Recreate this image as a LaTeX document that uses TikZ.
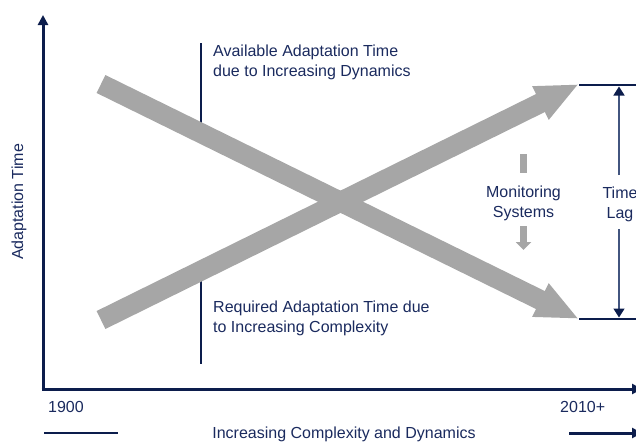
\documentclass[tikz,border=0pt]{standalone}
\usepackage{fontspec}
\setmainfont{Liberation Sans}
\usetikzlibrary{arrows.meta}
\definecolor{navy}{HTML}{0C1D4C}
\definecolor{txt}{HTML}{1A2A5E}
\definecolor{lagline}{HTML}{42557F}
\definecolor{arrgray}{HTML}{A6A6A6}
\tikzset{
  axis/.style={draw=navy, line width=3pt, -{Triangle[width=10pt,length=10pt]}},
  labline/.style={draw=navy, line width=2.5pt},
  bigarrow/.style={draw=arrgray, line width=20pt, line cap=butt, -{Triangle[width=34pt,length=43pt]}},
  smallarrow/.style={draw=arrgray, line width=7pt, line cap=butt, -{Triangle[width=15pt,length=8pt]}},
  lagarrow/.style={draw=lagline, line width=1.5pt, -{Triangle[width=11pt,length=9pt, color=navy]}},
  lbl/.style={text=txt, inner sep=0pt, font=\fontsize{16}{20}\selectfont},
}
\begin{document}
\begin{tikzpicture}[x=1pt,y=-1pt]
\useasboundingbox (0,0) rectangle (636,442);
% axes
\coordinate (origin) at (43,389);
\coordinate (ytop) at (43,15);
\coordinate (xend) at (642,389);
\draw[axis] (43,389) -- (ytop);
\draw[axis] (41.5,389) -- (xend);
% label lines
\coordinate (avtop) at (201,43);
\coordinate (avbot) at (201,126);
\coordinate (rqtop) at (201,278);
\coordinate (rqbot) at (201,364);
\draw[labline] (avtop) -- (avbot);
\draw[labline] (rqtop) -- (rqbot);
% big arrows
\coordinate (d0) at (101,84);
\coordinate (d1) at (579,319);
\coordinate (u0) at (101,320);
\coordinate (u1) at (579,84);
\draw[bigarrow] (d0) -- (d1);
\draw[bigarrow] (u0) -- (u1);
% texts
\node[lbl, anchor=north west, align=left] (avail) at (213,44.5) {Available Adaptation Time\\due to Increasing Dynamics};
\node[lbl, anchor=north west, align=left] (req) at (213,300.5) {Required Adaptation Time due\\to Increasing Complexity};
\node[lbl, rotate=90] (ylab) at (19,202) {Adaptation Time};
\node[lbl, anchor=base west] (y1900) at (48,412) {1900};
\node[lbl, anchor=base west] (y2010) at (560,412) {2010+};
\node[lbl, anchor=base] (xlab) at (344,438) {Increasing Complexity and Dynamics};
\coordinate (bl0) at (44,433);
\coordinate (bl1) at (118,433);
\coordinate (br0) at (569,433);
\coordinate (br1) at (642,433);
\draw[labline] (bl0) -- (bl1);
\draw[axis] (br0) -- (br1);
% time lag
\coordinate (lt0) at (579,85);
\coordinate (lt1) at (640,85);
\coordinate (lb0) at (579,319);
\coordinate (lb1) at (640,319);
\draw[labline] (lt0) -- (lt1);
\draw[labline] (lb0) -- (lb1);
\node[lbl, anchor=north, align=center] (lag) at (620,186.5) {Time\\Lag};
\coordinate (la0) at (619,175);
\coordinate (la1) at (619,86.5);
\coordinate (lc0) at (619,229);
\coordinate (lc1) at (619,317.5);
\draw[lagarrow] (la0) -- (la1);
\draw[lagarrow] (lc0) -- (lc1);
% monitoring
\node[lbl, anchor=north, align=center] (mon) at (523.5,185.5) {Monitoring\\Systems};
\coordinate (m0) at (523.5,154);
\coordinate (m1) at (523.5,173);
\coordinate (m2) at (523.5,226);
\coordinate (m3) at (523.5,250);
\draw[draw=arrgray, line width=7pt] (m0) -- (m1);
\draw[smallarrow] (m2) -- (m3);
\end{tikzpicture}
\end{document}
